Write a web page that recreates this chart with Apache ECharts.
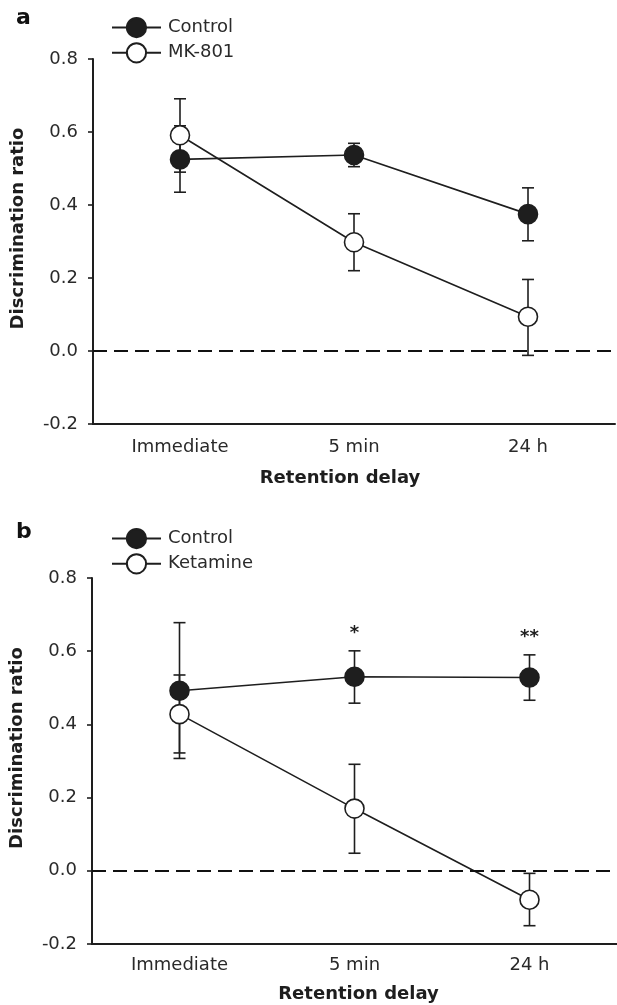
<!DOCTYPE html>
<html>
<head>
<meta charset="utf-8">
<script src="https://cdn.jsdelivr.net/npm/echarts@6/dist/echarts.min.js"></script>
<style>
  html, body { margin: 0; padding: 0; background: #fff; }
  #chart { width: 617px; height: 1005px; }
</style>
</head>
<body>
<div id="chart"></div>
<script>
// retention delays (shared by both panels)
const delays = ['Immediate', '5 min', '24 h']

// panel a: Control vs MK-801
const ctrlA = [0.525, 0.537, 0.375]
const ctrlALow = [0.435, 0.505, 0.302]
const ctrlAHigh = [0.617, 0.569, 0.447]
const mkA = [0.591, 0.298, 0.094]
const mkALow = [0.490, 0.220, -0.012]
const mkAHigh = [0.691, 0.376, 0.196]

// panel b: Control vs Ketamine
const ctrlB = [0.492, 0.530, 0.528]
const ctrlBLow = [0.307, 0.458, 0.466]
const ctrlBHigh = [0.678, 0.601, 0.590]
const ketB = [0.428, 0.170, -0.079]
const ketBLow = [0.322, 0.048, -0.150]
const ketBHigh = [0.535, 0.291, -0.007]
const starsB = ['', '*', '**']

const yTicks = { min: -0.2, max: 0.8, interval: 0.2 }

const INK = '#1e1e1e'
const FONT = 'DejaVu Sans'

const chart = echarts.init(document.getElementById('chart'), null, { renderer: 'canvas' })

const errorSeries = (axisIdx, low, high, stars) => ({
  type: 'custom',
  xAxisIndex: axisIdx,
  yAxisIndex: axisIdx,
  z: 1,
  silent: true,
  data: low.map((v, i) => [i, v, high[i]]),
  renderItem: (params, api) => {
    const top = api.coord([api.value(0), api.value(2)])
    const bot = api.coord([api.value(0), api.value(1)])
    const half = 6
    const st = { stroke: INK, lineWidth: 1.6 }
    const children = [
      { type: 'line', shape: { x1: top[0], y1: top[1], x2: bot[0], y2: bot[1] }, style: st },
      { type: 'line', shape: { x1: top[0] - half, y1: top[1], x2: top[0] + half, y2: top[1] }, style: st },
      { type: 'line', shape: { x1: bot[0] - half, y1: bot[1], x2: bot[0] + half, y2: bot[1] }, style: st }
    ]
    const star = stars && stars[params.dataIndex]
    if (star) {
      children.push({
        type: 'text',
        x: top[0],
        y: top[1] - 18,
        style: { text: star, fill: INK, font: 'bold 18px ' + FONT, align: 'center', verticalAlign: 'middle' }
      })
    }
    return { type: 'group', children }
  }
})

const lineSeries = (axisIdx, name, data, filled, withZero) => {
  const s = {
    name,
    type: 'line',
    xAxisIndex: axisIdx,
    yAxisIndex: axisIdx,
    data,
    z: 3,
    symbol: 'circle',
    symbolSize: 19,
    showSymbol: true,
    lineStyle: { color: INK, width: 1.6 },
    itemStyle: {
      color: filled ? INK : '#fff',
      borderColor: INK,
      borderWidth: 1.6
    },
    emphasis: { disabled: true }
  }
  if (withZero) {
    s.markLine = {
      silent: true,
      symbol: 'none',
      label: { show: false },
      lineStyle: { color: '#111', width: 2, opacity: 1, type: [14, 7] },
      data: [{ yAxis: 0 }]
    }
  }
  return s
}

const xAxisFor = (gridIndex, labelMargin, nameGap, namePad) => ({
  type: 'category',
  gridIndex,
  data: delays,
  boundaryGap: true,
  name: 'Retention delay',
  nameLocation: 'middle',
  nameGap,
  nameTextStyle: { fontFamily: FONT, fontSize: 18, fontWeight: 'bold', color: INK, padding: namePad },
  axisLine: { onZero: false, lineStyle: { color: INK, width: 2 } },
  axisTick: { alignWithLabel: true, length: 6, lineStyle: { color: INK, width: 1.6 } },
  axisLabel: { fontFamily: FONT, fontSize: 18, color: '#2a2a2a', margin: labelMargin },
  splitLine: { show: false }
})

const yAxisFor = (gridIndex) => ({
  type: 'value',
  gridIndex,
  min: yTicks.min,
  max: yTicks.max,
  interval: yTicks.interval,
  name: 'Discrimination ratio',
  nameLocation: 'middle',
  nameGap: 66,
  nameTextStyle: { fontFamily: FONT, fontSize: 18, fontWeight: 'bold', color: INK, padding: [0, 0, 0, 26] },
  axisLine: { show: true, onZero: false, lineStyle: { color: INK, width: 2 } },
  axisTick: { show: true, length: 5, lineStyle: { color: INK, width: 1.6 } },
  axisLabel: {
    fontFamily: FONT,
    fontSize: 18,
    color: '#2a2a2a',
    margin: 15,
    formatter: (v) => v.toFixed(1)
  },
  splitLine: { show: false }
})

const legendFor = (top, names) => ({
  orient: 'vertical',
  left: 106,
  top,
  itemWidth: 49,
  itemHeight: 24,
  itemGap: 4,
  selectedMode: false,
  data: names,
  textStyle: { fontFamily: FONT, fontSize: 18, color: '#2a2a2a', padding: [0, 0, 0, 2] }
})

chart.setOption({
  backgroundColor: '#fff',
  animation: false,
  title: [
    { text: 'a', left: 11, top: 2, textStyle: { fontFamily: FONT, fontSize: 22, fontWeight: 'bold', color: '#111' } },
    { text: 'b', left: 11, top: 516, textStyle: { fontFamily: FONT, fontSize: 22, fontWeight: 'bold', color: '#111' } }
  ],
  legend: [
    legendFor(12, ['Control', 'MK-801']),
    legendFor(523, ['Control', 'Ketamine'])
  ],
  grid: [
    { left: 93, top: 59, width: 522, height: 365 },
    { left: 92, top: 578, width: 550, height: 366 }
  ],
  xAxis: [
    xAxisFor(0, 14, 45, [0, 28, 0, 0]),
    xAxisFor(1, 12, 41, [0, 0, 0, 8])
  ],
  yAxis: [yAxisFor(0), yAxisFor(1)],
  series: [
    errorSeries(0, ctrlALow, ctrlAHigh),
    errorSeries(0, mkALow, mkAHigh),
    lineSeries(0, 'Control', ctrlA, true, true),
    lineSeries(0, 'MK-801', mkA, false, false),
    errorSeries(1, ctrlBLow, ctrlBHigh, starsB),
    errorSeries(1, ketBLow, ketBHigh),
    lineSeries(1, 'Control', ctrlB, true, true),
    lineSeries(1, 'Ketamine', ketB, false, false)
  ]
})
</script>
</body>
</html>
